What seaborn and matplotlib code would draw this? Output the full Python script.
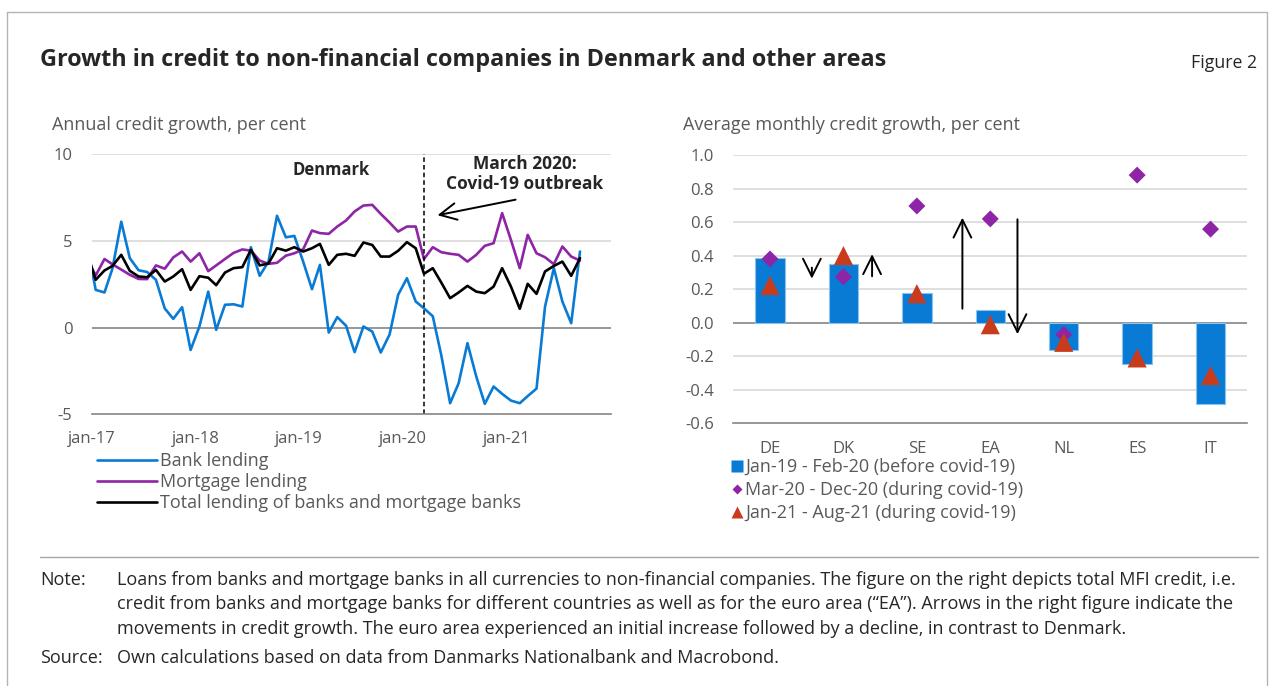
import numpy as np
import pandas as pd
import seaborn as sns
import matplotlib.pyplot as plt
import matplotlib.dates as mdates
from matplotlib.lines import Line2D

# ---- left panel data: annual credit growth (per cent), monthly, dec-16 .. sep-21
# first obs (dec-16) lies left of the axis start and gets clipped, like the original
bank = [4.9,
        2.17, 2.02, 3.4, 6.1, 4.0, 3.3, 3.2, 2.75, 1.1, 0.5, 1.17, -1.29,
        0.06, 2.07, -0.13, 1.31, 1.34, 1.21, 4.63, 2.98, 3.8, 6.44, 5.2, 5.28,
        3.8, 2.21, 3.61, -0.29, 0.6, 0.1, -1.42, 0.06, -0.23, -1.44, -0.4, 1.88,
        2.84, 1.5, 1.11, 0.65, -1.6, -4.36, -3.21, -0.9, -2.82, -4.4, -3.4, -3.82,
        -4.21, -4.36, -3.95, -3.52, 1.21, 3.42, 1.5, 0.25, 4.38]
mortgage = [4.0,
            3.0, 3.95, 3.64, 3.34, 3.04, 2.8, 2.79, 3.58, 3.39, 4.04, 4.38, 3.8,
            4.28, 3.25, 3.58, 3.95, 4.3, 4.5, 4.43, 3.86, 3.67, 3.73, 4.14, 4.28,
            4.51, 5.59, 5.44, 5.4, 5.82, 6.17, 6.69, 7.03, 7.07, 6.55, 6.05, 5.53,
            5.82, 5.82, 3.95, 4.63, 4.34, 4.25, 4.19, 3.8, 4.19, 4.71, 4.86, 6.59,
            5.05, 3.42, 5.34, 4.28, 4.05, 3.65, 4.67, 4.09, 3.86]
total = [4.3,
         2.75, 3.29, 3.55, 4.19, 3.27, 2.94, 2.9, 3.32, 2.65, 2.94, 3.36, 2.17,
         2.96, 2.87, 2.44, 3.17, 3.42, 3.48, 4.48, 3.58, 3.69, 4.57, 4.43, 4.63,
         4.38, 4.57, 4.82, 3.61, 4.19, 4.25, 4.13, 4.9, 4.76, 4.09, 4.09, 4.42,
         4.92, 4.57, 3.1, 3.42, 2.59, 1.69, 2.02, 2.4, 2.07, 1.98, 2.36, 3.42,
         2.36, 1.08, 2.52, 1.94, 3.23, 3.55, 3.8, 2.98, 4.0]
series_names = ["Bank lending", "Mortgage lending",
                "Total lending of banks and mortgage banks"]
year_labels = ["jan-17", "jan-18", "jan-19", "jan-20", "jan-21", ""]

# ---- right panel data: average monthly credit growth (per cent)
countries = ["DE", "DK", "SE", "EA", "NL", "ES", "IT"]
pre_covid = [0.383, 0.349, 0.18, 0.077, -0.16, -0.246, -0.482]
covid_2020 = [0.38, 0.274, 0.696, 0.619, -0.071, 0.88, 0.558]
covid_2021 = [0.222, 0.40, 0.173, -0.012, -0.117, -0.21, -0.315]
period_labels = ["Jan-19 - Feb-20 (before covid-19)",
                 "Mar-20 - Dec-20 (during covid-19)",
                 "Jan-21 - Aug-21 (during covid-19)"]

BLUE = "#0a7bd4"
PURPLE = "#8e24a6"
RED = "#c83b1c"
GREY_TXT = "#595959"
GRID = "#d9d9d9"
AXIS = "#858585"

sns.set_style("white")
plt.rcParams["font.family"] = ["Open Sans", "DejaVu Sans"]
plt.rcParams["axes.unicode_minus"] = False

fig = plt.figure(figsize=(12.74, 6.86), dpi=100)
W, H = 1274, 686


def fx(px):
    return px / W


def fy(py):
    return 1 - py / H


ax1 = fig.add_axes([fx(91.7), fy(414.3), fx(610.7) - fx(91.7), fy(154) - fy(414.3)])
ax2 = fig.add_axes([fx(733.3), fy(423.3), fx(1247.3) - fx(733.3), fy(155) - fy(423.3)])

# ---------------- left panel ----------------
dates = pd.date_range("2016-12-01", periods=len(bank), freq="MS") + pd.Timedelta(days=14)
df = pd.DataFrame({"date": dates, series_names[0]: bank,
                   series_names[1]: mortgage, series_names[2]: total})
long_df = df.melt(id_vars="date", var_name="series", value_name="growth")
pal = dict(zip(series_names, [BLUE, PURPLE, "black"]))

for yv in [5, 10]:
    ax1.axhline(yv, color=GRID, lw=1.2, zorder=0)
ax1.axhline(0, color=AXIS, lw=1.2, zorder=0)

sns.lineplot(data=long_df, x="date", y="growth", hue="series", hue_order=series_names,
             palette=pal, lw=1.9, ax=ax1, legend=False)

ax1.set_xlim(pd.Timestamp("2017-01-01"), pd.Timestamp("2022-01-01"))
ax1.set_ylim(-5, 10)
ax1.set_yticks([-5, 0, 5, 10])
ax1.set_yticklabels(["-5", "0", "5", "10"])
ax1.set_xticks(pd.date_range("2017-01-01", "2022-01-01", freq="YS"))
ax1.set_xticklabels(year_labels)
ax1.set_xlabel("")
ax1.set_ylabel("")
for s in ["top", "right", "left"]:
    ax1.spines[s].set_visible(False)
ax1.spines["bottom"].set_color(AXIS)
ax1.spines["bottom"].set_linewidth(1.2)
ax1.tick_params(axis="x", direction="in", length=6, color=AXIS, labelsize=12,
                labelcolor=GREY_TXT, pad=12)
ax1.tick_params(axis="y", length=0, labelsize=12, labelcolor=GREY_TXT, pad=14)

ax1.axvline(pd.Timestamp("2020-03-15"), color="black", lw=1.1, ls=(0, (3, 2)))
ax1.text(pd.Timestamp("2019-04-25"), 9.1, "Denmark", ha="center", va="center",
         fontsize=12, fontweight="bold")
ax1.text(pd.Timestamp("2021-03-05"), 8.85, "March 2020:\nCovid-19 outbreak", ha="center",
         va="center", fontsize=12.5, fontweight="bold", linespacing=1.1)
ax1.annotate("", xy=(mdates.date2num(pd.Timestamp("2020-04-22")), 6.44),
             xytext=(mdates.date2num(pd.Timestamp("2021-02-10")), 7.4),
             arrowprops=dict(arrowstyle="->", lw=1.4, color="black", mutation_scale=30))

fig.text(fx(52), fy(125), "Annual credit growth, per cent", fontsize=13,
         color=GREY_TXT, va="center", ha="left")

leg1 = [Line2D([0], [0], color=pal[n], lw=1.9) for n in series_names]
fig.legend(leg1, series_names, loc="upper left", bbox_to_anchor=(fx(97), fy(452)),
           frameon=False, fontsize=13, labelcolor=GREY_TXT, handlelength=3.3,
           handletextpad=0.2, labelspacing=0.18, borderaxespad=0, borderpad=0)

# ---------------- right panel ----------------
for yv in np.arange(-0.4, 1.01, 0.2):
    if abs(yv) > 1e-9:
        ax2.axhline(yv, color=GRID, lw=1.2, zorder=0)
ax2.axhline(0, color=AXIS, lw=1.2, zorder=1)

sns.barplot(x=countries, y=pre_covid, color=BLUE, width=0.4, ax=ax2,
            edgecolor="#8cc3ee", linewidth=0.8, saturation=1, zorder=2)
pos = np.arange(len(countries))
sns.scatterplot(x=pos, y=covid_2020, marker="D", s=75, color=PURPLE, edgecolor="none",
                ax=ax2, zorder=3)
sns.scatterplot(x=pos, y=covid_2021, marker="^", s=190, color=RED, edgecolor="none",
                ax=ax2, zorder=3)

ax2.set_xlim(-0.5, len(countries) - 0.5)
ax2.set_ylim(-0.6, 1.0)
ax2.set_yticks(np.round(np.arange(-0.6, 1.01, 0.2), 1))
ax2.set_yticklabels([f"{v:.1f}" for v in np.arange(-0.6, 1.01, 0.2)])
ax2.set_xticks(pos)
ax2.set_xticklabels(countries)
ax2.set_xticks(np.arange(-0.5, len(countries), 1), minor=True)
ax2.set_xlabel("")
ax2.set_ylabel("")
for s in ["top", "right", "left"]:
    ax2.spines[s].set_visible(False)
ax2.spines["bottom"].set_color(AXIS)
ax2.spines["bottom"].set_linewidth(1.2)
ax2.tick_params(axis="x", which="major", length=0, labelsize=12, labelcolor=GREY_TXT, pad=13)
ax2.tick_params(axis="x", which="minor", direction="in", length=6, color=AXIS)
ax2.tick_params(axis="y", length=0, labelsize=12, labelcolor=GREY_TXT, pad=14)

arrow_kw = dict(arrowstyle="->", lw=1.4, color="black", mutation_scale=32)
for x0, y0, y1 in [(0.57, 0.345, 0.246), (1.39, 0.26, 0.425),
                   (2.62, 0.067, 0.643), (3.37, 0.633, -0.085)]:
    ax2.annotate("", xy=(x0, y1), xytext=(x0, y0), arrowprops=arrow_kw)

fig.text(fx(683), fy(125), "Average monthly credit growth, per cent", fontsize=13,
         color=GREY_TXT, va="center", ha="left")

leg2 = [Line2D([0], [0], marker="s", color="none", markerfacecolor=BLUE, markeredgecolor="none", markersize=8),
        Line2D([0], [0], marker="D", color="none", markerfacecolor=PURPLE, markeredgecolor="none", markersize=5),
        Line2D([0], [0], marker="^", color="none", markerfacecolor=RED, markeredgecolor="none", markersize=9)]
fig.legend(leg2, period_labels, loc="upper left", bbox_to_anchor=(fx(731), fy(458)),
           frameon=False, fontsize=13, labelcolor=GREY_TXT, handlelength=0.7,
           handletextpad=0.1, labelspacing=0.28, borderaxespad=0, borderpad=0)

# ---------------- frame, title, notes ----------------
frame_c = "#b4b4b4"
fig.add_artist(Line2D([fx(7), fx(1267)], [fy(12), fy(12)], color=frame_c, lw=1))
fig.add_artist(Line2D([fx(7), fx(7)], [fy(12), 0], color=frame_c, lw=1))
fig.add_artist(Line2D([fx(1267), fx(1267)], [fy(12), 0], color=frame_c, lw=1))
fig.add_artist(Line2D([fx(40), fx(1258)], [fy(557), fy(557)], color="#a6a6a6", lw=1))

fig.text(fx(40), fy(60), "Growth in credit to non-financial companies in Denmark and other areas",
         fontsize=16.85, fontweight="bold", va="center", ha="left")
fig.text(fx(1257), fy(63), "Figure 2", fontsize=12.8, va="center", ha="right")

note = ("Loans from banks and mortgage banks in all currencies to non-financial companies. "
        "The figure on the right depicts total MFI credit, i.e.\n"
        "credit from banks and mortgage banks for different countries as well as for the euro "
        "area (\u201cEA\u201d). Arrows in the right figure indicate the\n"
        "movements in credit growth. The euro area experienced an initial increase followed "
        "by a decline, in contrast to Denmark.")
fig.text(fx(40), fy(571), "Note:", fontsize=13, va="top", ha="left")
fig.text(fx(117), fy(571), note, fontsize=13, va="top", ha="left", linespacing=1.45)
fig.text(fx(40), fy(658), "Source:", fontsize=13, va="center", ha="left")
fig.text(fx(117), fy(658), "Own calculations based on data from Danmarks Nationalbank and Macrobond.",
         fontsize=13, va="center", ha="left")

fig.savefig("out.png", dpi=100)
